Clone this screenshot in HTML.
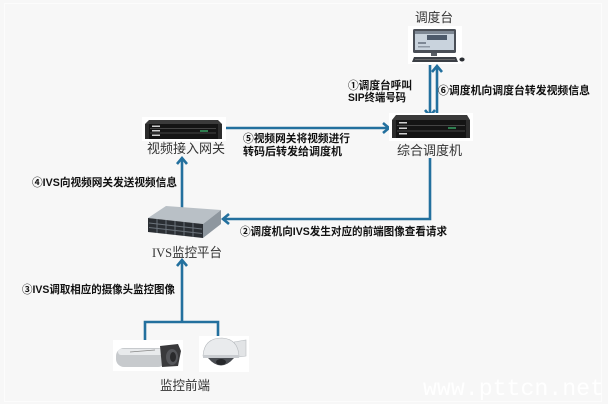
<!DOCTYPE html>
<html><head><meta charset="utf-8"><style>
html,body{margin:0;padding:0;background:#f7f7f7;}
svg{display:block;}
.b{font-family:"Liberation Sans","Noto Sans CJK SC",sans-serif;font-weight:bold;font-size:11px;fill:#111;}
.n{font-family:"Liberation Serif","Noto Sans CJK SC",sans-serif;font-size:13px;fill:#333;}
</style></head><body>
<svg width="608" height="404" viewBox="0 0 608 404" xmlns="http://www.w3.org/2000/svg">
<rect width="608" height="404" fill="#f7f7f7"/>
<rect x="4.5" y="3.5" width="597" height="398" fill="none" stroke="#fcfcfc" stroke-width="1"/>

<!-- connectors -->
<g stroke="#23709e" stroke-width="2.6" fill="none" stroke-linecap="butt">
  <!-- monitor <-> dispatcher -->
  <line x1="430" y1="65" x2="430" y2="116"/>
  <polyline points="425,110 430,116 435,110"/>
  <line x1="437" y1="66" x2="437" y2="117"/>
  <polyline points="432,72 437,66 442,72"/>
  <!-- gateway -> dispatcher -->
  <line x1="222" y1="128" x2="389" y2="128"/>
  <polyline points="383,123 389,128 383,133"/>
  <!-- dispatcher -> IVS -->
  <polyline points="430,158 430,219 223,219"/>
  <polyline points="229,214 223,219 229,224"/>
  <!-- IVS -> gateway -->
  <line x1="182" y1="208" x2="182" y2="158"/>
  <polyline points="177,164 182,158 187,164"/>
  <!-- cameras -> IVS -->
  <line x1="182" y1="322" x2="182" y2="260"/>
  <polyline points="177,266 182,260 187,266"/>
  <polyline points="145,340 145,322 218,322 218,337"/>
</g>

<!-- monitor 调度台 -->
<rect x="408" y="26" width="54" height="38" fill="#ffffff"/>
<rect x="413" y="29" width="43" height="24" rx="1.5" fill="#4a4f57"/>
<rect x="415" y="31" width="39" height="19" fill="#c9d3dd"/>
<rect x="415" y="31" width="39" height="3" fill="#7e8894"/>
<rect x="427" y="35" width="20" height="5" fill="#4d5a6b"/>
<rect x="418" y="42" width="8" height="2" fill="#7d8794"/>
<rect x="418" y="46" width="12" height="1.5" fill="#8f99a5"/>
<rect x="431" y="53" width="6" height="3" fill="#5a5f66"/>
<polygon points="414,57 456,57 458,62 412,62" fill="#3b3f45"/>
<line x1="415" y1="59.5" x2="455" y2="59.5" stroke="#777" stroke-width="0.8"/>
<ellipse cx="462" cy="59.5" rx="2.6" ry="2" fill="#2b2e33"/>
<text class="n" x="415" y="22" textLength="38" lengthAdjust="spacingAndGlyphs">调度台</text>

<!-- 综合调度机 -->
<rect x="389" y="113" width="84" height="28" fill="#ffffff"/>
<polygon points="396,115 467,115 470,120 392,120" fill="#3a3a3a"/>
<rect x="392" y="120" width="78" height="18" fill="#141414"/>
<rect x="392" y="120" width="4" height="18" fill="#2c2c2c"/>
<rect x="466" y="120" width="4" height="18" fill="#2c2c2c"/>
<g fill="#cfcfcf"><rect x="399" y="122" width="8" height="1.5"/><rect x="399" y="127.5" width="8" height="1.5"/><rect x="399" y="133" width="8" height="1.5"/></g>
<g stroke="#555" stroke-width="0.8"><line x1="397" y1="125.5" x2="465" y2="125.5"/><line x1="397" y1="131" x2="465" y2="131"/></g>
<rect x="448" y="127" width="8" height="2" fill="#2e7d4f"/>
<text class="n" x="397" y="155" textLength="65" lengthAdjust="spacingAndGlyphs">综合调度机</text>

<!-- 视频接入网关 -->
<rect x="142" y="117" width="84" height="24" fill="#ffffff"/>
<polygon points="149,120 218,120 222,124 145,124" fill="#3a3a3a"/>
<rect x="145" y="124" width="77" height="15" fill="#141414"/>
<rect x="145" y="124" width="4" height="15" fill="#2c2c2c"/>
<rect x="218" y="124" width="4" height="15" fill="#2c2c2c"/>
<g fill="#cfcfcf"><rect x="152" y="125.5" width="8" height="1.5"/><rect x="152" y="130" width="8" height="1.5"/><rect x="152" y="134.5" width="8" height="1.5"/></g>
<g stroke="#555" stroke-width="0.8"><line x1="150" y1="128.5" x2="216" y2="128.5"/><line x1="150" y1="133" x2="216" y2="133"/></g>
<rect x="200" y="130" width="8" height="2" fill="#2e7d4f"/>
<text class="n" x="147" y="153" textLength="78" lengthAdjust="spacingAndGlyphs">视频接入网关</text>

<!-- IVS server -->
<polygon points="148,218 166,206 221,210 203,224" fill="#b9c0c6"/>
<polygon points="148,218 203,224 203,238 148,232" fill="#2a2e33"/>
<polygon points="203,224 221,210 221,224 203,238" fill="#8e979f"/>
<g stroke="#6b737b" stroke-width="1">
  <line x1="157" y1="219" x2="157" y2="233"/><line x1="166" y1="220" x2="166" y2="234"/>
  <line x1="175" y1="221" x2="175" y2="235"/><line x1="184" y1="222" x2="184" y2="236"/>
  <line x1="193" y1="223" x2="193" y2="237"/>
  <line x1="149" y1="223" x2="202" y2="229"/><line x1="149" y1="227.5" x2="202" y2="233.5"/>
</g>
<text class="n" x="152" y="257" textLength="70" lengthAdjust="spacingAndGlyphs">IVS监控平台</text>

<!-- bullet camera -->
<rect x="113" y="340" width="70" height="31" fill="#ffffff"/>
<rect x="116" y="348" width="50" height="19" rx="8" fill="#c7cacd"/>
<rect x="118" y="349" width="46" height="6" rx="3" fill="#e8eaec"/>
<polygon points="160,346 178,344 181,351 178,366 162,367" fill="#3a3a3c"/>
<ellipse cx="172" cy="357" rx="6" ry="8" fill="#55565a"/>
<ellipse cx="173" cy="357" rx="3" ry="5" fill="#2a2a2c"/>
<line x1="130" y1="352" x2="155" y2="350" stroke="#888" stroke-width="0.8"/>

<!-- dome camera -->
<rect x="199" y="336" width="50" height="36" fill="#ffffff"/>
<polygon points="234,342 246,340 246,356 238,357" fill="#e2e4e6" stroke="#b8bcc0" stroke-width="0.6"/>
<path d="M203,356 Q204,338 222,338 Q238,339 239,356 Z" fill="#e9ebed" stroke="#b5b9bd" stroke-width="0.6"/>
<rect x="203" y="355" width="36" height="3" fill="#c9ccd0"/>
<path d="M208,358 Q221,373 234,358 Z" fill="#4a4d52"/>
<ellipse cx="221" cy="362" rx="5" ry="3" fill="#26282b"/>
<text class="n" x="160" y="390" textLength="50" lengthAdjust="spacingAndGlyphs">监控前端</text>

<!-- bold labels -->
<text class="b" x="348" y="89" textLength="64" lengthAdjust="spacingAndGlyphs">①调度台呼叫</text>
<text class="b" x="348" y="101" textLength="58" lengthAdjust="spacingAndGlyphs">SIP终端号码</text>
<text class="b" x="438" y="94" textLength="152" lengthAdjust="spacingAndGlyphs">⑥调度机向调度台转发视频信息</text>
<text class="b" x="243" y="142" textLength="107" lengthAdjust="spacingAndGlyphs">⑤视频网关将视频进行</text>
<text class="b" x="243" y="155" textLength="99" lengthAdjust="spacingAndGlyphs">转码后转发给调度机</text>
<text class="b" x="32" y="186" textLength="145" lengthAdjust="spacingAndGlyphs">④IVS向视频网关发送视频信息</text>
<text class="b" x="240" y="235" textLength="207" lengthAdjust="spacingAndGlyphs">②调度机向IVS发生对应的前端图像查看请求</text>
<text class="b" x="22" y="293" textLength="153" lengthAdjust="spacingAndGlyphs">③IVS调取相应的摄像头监控图像</text>

<!-- watermark -->
<text x="423" y="395" font-family="Liberation Mono, monospace" font-size="23" fill="#ffffff" textLength="181" lengthAdjust="spacingAndGlyphs">www.pttcn.net</text>
</svg>
</body></html>
